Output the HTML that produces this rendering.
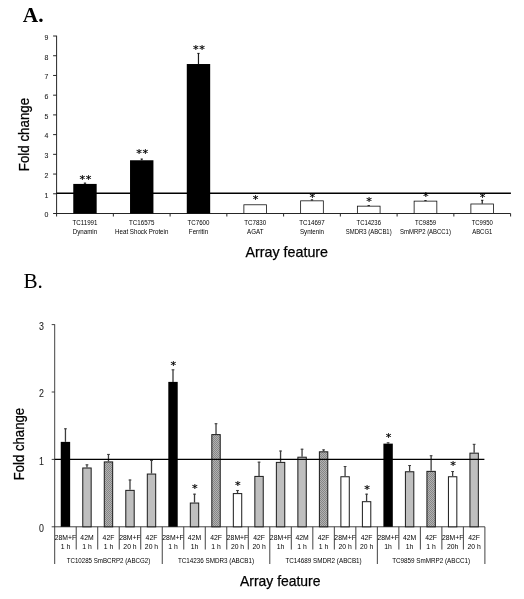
<!DOCTYPE html>
<html lang="en"><head><meta charset="utf-8"><title>Figure</title>
<style>
html,body{margin:0;padding:0;background:#fff;}
body{width:524px;height:599px;overflow:hidden;}
svg{display:block;}
text{font-family:"Liberation Sans", sans-serif;fill:#000;}
.st{font-family:"DejaVu Sans","Liberation Sans",sans-serif;stroke:#000;stroke-width:0.2px;}
.big{stroke:#000;stroke-width:0.25px;}
.tk{fill:#1c1c1c;stroke:#1c1c1c;stroke-width:0.08px;}
.sm{stroke:#000;stroke-width:0.22px;}
.serif{font-family:"Liberation Serif", serif;fill:#000;}
</style></head><body>
<svg width="524" height="599" viewBox="0 0 524 599">
<defs>
<pattern id="hatch" width="2" height="2" patternUnits="userSpaceOnUse">
<rect width="2" height="2" fill="#b2b2b2"/><rect width="1" height="1" fill="#868686"/><rect x="1" y="1" width="1" height="1" fill="#868686"/>
</pattern>
</defs>
<rect width="524" height="599" fill="#fff"/>

<text class="serif" x="22.8" y="22.1" font-size="21.4" font-weight="bold">A.</text>
<g stroke="#262626" stroke-width="1" fill="none">
<line x1="56.6" y1="35.72" x2="56.6" y2="213.9"/>
<line x1="53.1" y1="213.5" x2="510.6" y2="213.5"/>
<line x1="53.1" y1="193.78" x2="56.6" y2="193.78"/>
<line x1="53.1" y1="174.06" x2="56.6" y2="174.06"/>
<line x1="53.1" y1="154.34" x2="56.6" y2="154.34"/>
<line x1="53.1" y1="134.62" x2="56.6" y2="134.62"/>
<line x1="53.1" y1="114.90" x2="56.6" y2="114.90"/>
<line x1="53.1" y1="95.18" x2="56.6" y2="95.18"/>
<line x1="53.1" y1="75.46" x2="56.6" y2="75.46"/>
<line x1="53.1" y1="55.74" x2="56.6" y2="55.74"/>
<line x1="53.1" y1="36.02" x2="56.6" y2="36.02"/>
<line x1="56.60" y1="213.5" x2="56.60" y2="216.5"/>
<line x1="113.35" y1="213.5" x2="113.35" y2="216.5"/>
<line x1="170.10" y1="213.5" x2="170.10" y2="216.5"/>
<line x1="226.85" y1="213.5" x2="226.85" y2="216.5"/>
<line x1="283.60" y1="213.5" x2="283.60" y2="216.5"/>
<line x1="340.35" y1="213.5" x2="340.35" y2="216.5"/>
<line x1="397.10" y1="213.5" x2="397.10" y2="216.5"/>
<line x1="453.85" y1="213.5" x2="453.85" y2="216.5"/>
<line x1="510.60" y1="213.5" x2="510.60" y2="216.5"/>
</g>
<text class="tk" transform="translate(48.4,217.30) scale(0.88,1)" font-size="7.9" text-anchor="end">0</text>
<text class="tk" transform="translate(48.4,197.58) scale(0.88,1)" font-size="7.9" text-anchor="end">1</text>
<text class="tk" transform="translate(48.4,177.86) scale(0.88,1)" font-size="7.9" text-anchor="end">2</text>
<text class="tk" transform="translate(48.4,158.14) scale(0.88,1)" font-size="7.9" text-anchor="end">3</text>
<text class="tk" transform="translate(48.4,138.42) scale(0.88,1)" font-size="7.9" text-anchor="end">4</text>
<text class="tk" transform="translate(48.4,118.70) scale(0.88,1)" font-size="7.9" text-anchor="end">5</text>
<text class="tk" transform="translate(48.4,98.98) scale(0.88,1)" font-size="7.9" text-anchor="end">6</text>
<text class="tk" transform="translate(48.4,79.26) scale(0.88,1)" font-size="7.9" text-anchor="end">7</text>
<text class="tk" transform="translate(48.4,59.54) scale(0.88,1)" font-size="7.9" text-anchor="end">8</text>
<text class="tk" transform="translate(48.4,39.82) scale(0.88,1)" font-size="7.9" text-anchor="end">9</text>
<text class="big" transform="translate(29.4,134.5) rotate(-90)" font-size="14.2" text-anchor="middle" textLength="73.4" lengthAdjust="spacingAndGlyphs">Fold change</text>
<text class="big" x="286.8" y="257" font-size="14.2" text-anchor="middle" textLength="82.5" lengthAdjust="spacingAndGlyphs">Array feature</text>
<rect x="73.27" y="183.92" width="23.4" height="29.58" fill="#000"/>
<line x1="84.97" y1="183.92" x2="84.97" y2="182.74" stroke="#1a1a1a" stroke-width="1.2"/>
<line x1="83.77" y1="183.14" x2="86.17" y2="183.14" stroke="#1a1a1a" stroke-width="0.9"/>
<text class="st" x="79.61" y="182.68" font-size="11.3">*</text>
<text class="st" x="85.81" y="182.68" font-size="11.3">*</text>
<text transform="translate(84.97,225.40) scale(0.86,1)" font-size="7.2" text-anchor="middle">TC11991</text>
<text transform="translate(84.97,233.80) scale(0.86,1)" font-size="7.2" text-anchor="middle">Dynamin</text>
<rect x="130.03" y="160.26" width="23.4" height="53.24" fill="#000"/>
<line x1="141.72" y1="160.26" x2="141.72" y2="158.68" stroke="#1a1a1a" stroke-width="1.2"/>
<line x1="140.53" y1="159.08" x2="142.92" y2="159.08" stroke="#1a1a1a" stroke-width="0.9"/>
<text class="st" x="136.36" y="157.48" font-size="11.3">*</text>
<text class="st" x="142.56" y="157.48" font-size="11.3">*</text>
<text transform="translate(141.72,225.40) scale(0.86,1)" font-size="7.2" text-anchor="middle">TC16575</text>
<text transform="translate(141.72,233.80) scale(0.86,1)" font-size="7.2" text-anchor="middle">Heat Shock Protein</text>
<rect x="186.78" y="64.02" width="23.4" height="149.48" fill="#000"/>
<line x1="198.47" y1="64.02" x2="198.47" y2="52.98" stroke="#1a1a1a" stroke-width="1.2"/>
<line x1="197.28" y1="53.38" x2="199.67" y2="53.38" stroke="#1a1a1a" stroke-width="0.9"/>
<text class="st" x="193.11" y="53.08" font-size="11.3">*</text>
<text class="st" x="199.31" y="53.08" font-size="11.3">*</text>
<text transform="translate(198.47,225.40) scale(0.86,1)" font-size="7.2" text-anchor="middle">TC7600</text>
<text transform="translate(198.47,233.80) scale(0.86,1)" font-size="7.2" text-anchor="middle">Ferritin</text>
<rect x="243.88" y="204.78" width="22.7" height="8.72" fill="#fff" stroke="#111" stroke-width="0.8"/>
<text class="st" x="252.86" y="203.18" font-size="11.3">*</text>
<text transform="translate(255.22,225.40) scale(0.86,1)" font-size="7.2" text-anchor="middle">TC7830</text>
<text transform="translate(255.22,233.80) scale(0.86,1)" font-size="7.2" text-anchor="middle">AGAT</text>
<rect x="300.63" y="200.83" width="22.7" height="12.67" fill="#fff" stroke="#111" stroke-width="0.8"/>
<line x1="311.98" y1="200.48" x2="311.98" y2="199.50" stroke="#1a1a1a" stroke-width="1.2"/>
<line x1="310.78" y1="199.90" x2="313.18" y2="199.90" stroke="#1a1a1a" stroke-width="0.9"/>
<text class="st" x="309.61" y="201.08" font-size="11.3">*</text>
<text transform="translate(311.98,225.40) scale(0.86,1)" font-size="7.2" text-anchor="middle">TC14697</text>
<text transform="translate(311.98,233.80) scale(0.86,1)" font-size="7.2" text-anchor="middle">Syntenin</text>
<rect x="357.38" y="206.16" width="22.7" height="7.34" fill="#fff" stroke="#111" stroke-width="0.8"/>
<line x1="368.73" y1="205.81" x2="368.73" y2="205.22" stroke="#1a1a1a" stroke-width="1.2"/>
<line x1="367.53" y1="205.62" x2="369.93" y2="205.62" stroke="#1a1a1a" stroke-width="0.9"/>
<text class="st" x="366.36" y="204.58" font-size="11.3">*</text>
<text transform="translate(368.73,225.40) scale(0.825,1)" font-size="7.2" text-anchor="middle">TC14236</text>
<text transform="translate(368.73,233.80) scale(0.825,1)" font-size="7.2" text-anchor="middle">SMDR3 (ABCB1)</text>
<rect x="414.13" y="201.13" width="22.7" height="12.37" fill="#fff" stroke="#111" stroke-width="0.8"/>
<line x1="425.48" y1="200.78" x2="425.48" y2="200.19" stroke="#1a1a1a" stroke-width="1.2"/>
<line x1="424.28" y1="200.59" x2="426.68" y2="200.59" stroke="#1a1a1a" stroke-width="0.9"/>
<text class="st" x="423.11" y="200.08" font-size="11.3">*</text>
<text transform="translate(425.48,225.40) scale(0.825,1)" font-size="7.2" text-anchor="middle">TC9859</text>
<text transform="translate(425.48,233.80) scale(0.825,1)" font-size="7.2" text-anchor="middle">SmMRP2 (ABCC1)</text>
<rect x="470.88" y="203.99" width="22.7" height="9.51" fill="#fff" stroke="#111" stroke-width="0.8"/>
<line x1="482.23" y1="203.64" x2="482.23" y2="199.89" stroke="#1a1a1a" stroke-width="1.2"/>
<line x1="481.03" y1="200.29" x2="483.43" y2="200.29" stroke="#1a1a1a" stroke-width="0.9"/>
<text class="st" x="479.86" y="200.78" font-size="11.3">*</text>
<text transform="translate(482.23,225.40) scale(0.825,1)" font-size="7.2" text-anchor="middle">TC9950</text>
<text transform="translate(482.23,233.80) scale(0.825,1)" font-size="7.2" text-anchor="middle">ABCG1</text>
<line x1="56.6" y1="193.25" x2="510.90000000000003" y2="193.25" stroke="#000" stroke-width="1.3"/>
<text class="serif" x="23.4" y="287.5" font-size="21.2">B.</text>
<g stroke="#2e2e2e" stroke-width="0.9" fill="none">
<line x1="54.7" y1="324.30" x2="54.7" y2="564"/>
<line x1="51.7" y1="526.8" x2="484.9" y2="526.8"/>
<line x1="51.7" y1="459.40" x2="54.7" y2="459.40"/>
<line x1="51.7" y1="392.00" x2="54.7" y2="392.00"/>
<line x1="51.7" y1="324.60" x2="54.7" y2="324.60"/>
<line x1="76.21" y1="526.8" x2="76.21" y2="549.5"/>
<line x1="97.72" y1="526.8" x2="97.72" y2="549.5"/>
<line x1="119.23" y1="526.8" x2="119.23" y2="549.5"/>
<line x1="140.74" y1="526.8" x2="140.74" y2="549.5"/>
<line x1="162.25" y1="526.8" x2="162.25" y2="564"/>
<line x1="183.76" y1="526.8" x2="183.76" y2="549.5"/>
<line x1="205.27" y1="526.8" x2="205.27" y2="549.5"/>
<line x1="226.78" y1="526.8" x2="226.78" y2="549.5"/>
<line x1="248.29" y1="526.8" x2="248.29" y2="549.5"/>
<line x1="269.80" y1="526.8" x2="269.80" y2="564"/>
<line x1="291.31" y1="526.8" x2="291.31" y2="549.5"/>
<line x1="312.82" y1="526.8" x2="312.82" y2="549.5"/>
<line x1="334.33" y1="526.8" x2="334.33" y2="549.5"/>
<line x1="355.84" y1="526.8" x2="355.84" y2="549.5"/>
<line x1="377.35" y1="526.8" x2="377.35" y2="564"/>
<line x1="398.86" y1="526.8" x2="398.86" y2="549.5"/>
<line x1="420.37" y1="526.8" x2="420.37" y2="549.5"/>
<line x1="441.88" y1="526.8" x2="441.88" y2="549.5"/>
<line x1="463.39" y1="526.8" x2="463.39" y2="549.5"/>
<line x1="484.90" y1="526.8" x2="484.90" y2="564"/>
</g>
<text class="tk" transform="translate(43.9,532.10) scale(0.82,1)" font-size="10.8" text-anchor="end">0</text>
<text class="tk" transform="translate(43.9,464.70) scale(0.82,1)" font-size="10.8" text-anchor="end">1</text>
<text class="tk" transform="translate(43.9,397.30) scale(0.82,1)" font-size="10.8" text-anchor="end">2</text>
<text class="tk" transform="translate(43.9,329.90) scale(0.82,1)" font-size="10.8" text-anchor="end">3</text>
<text class="big" transform="translate(23.8,444.1) rotate(-90)" font-size="14.3" text-anchor="middle" textLength="72.4" lengthAdjust="spacingAndGlyphs">Fold change</text>
<text class="big" x="280.25" y="585.5" font-size="14.2" text-anchor="middle" textLength="80.5" lengthAdjust="spacingAndGlyphs">Array feature</text>
<rect x="60.75" y="441.88" width="9.4" height="84.92" fill="#000"/>
<line x1="65.45" y1="441.88" x2="65.45" y2="428.40" stroke="#3c3c3c" stroke-width="1.3"/>
<line x1="64.05" y1="428.80" x2="66.86" y2="428.80" stroke="#3c3c3c" stroke-width="1"/>
<text transform="translate(65.45,540.00) scale(0.9,1)" font-size="7.6" text-anchor="middle">28M+F</text>
<text transform="translate(65.45,548.90) scale(0.9,1)" font-size="7.6" text-anchor="middle">1 h</text>
<rect x="82.77" y="467.99" width="8.4" height="58.81" fill="#bfbfbf" stroke="#1a1a1a" stroke-width="1"/>
<line x1="86.97" y1="467.49" x2="86.97" y2="464.45" stroke="#3c3c3c" stroke-width="1.3"/>
<line x1="85.56" y1="464.85" x2="88.37" y2="464.85" stroke="#3c3c3c" stroke-width="1"/>
<text transform="translate(86.97,540.00) scale(0.9,1)" font-size="7.6" text-anchor="middle">42M</text>
<text transform="translate(86.97,548.90) scale(0.9,1)" font-size="7.6" text-anchor="middle">1 h</text>
<rect x="104.27" y="461.92" width="8.4" height="64.88" fill="url(#hatch)" stroke="#1a1a1a" stroke-width="1"/>
<line x1="108.47" y1="461.42" x2="108.47" y2="454.01" stroke="#3c3c3c" stroke-width="1.3"/>
<line x1="107.07" y1="454.41" x2="109.88" y2="454.41" stroke="#3c3c3c" stroke-width="1"/>
<text transform="translate(108.47,540.00) scale(0.9,1)" font-size="7.6" text-anchor="middle">42F</text>
<text transform="translate(108.47,548.90) scale(0.9,1)" font-size="7.6" text-anchor="middle">1 h</text>
<rect x="125.79" y="490.36" width="8.4" height="36.44" fill="#bfbfbf" stroke="#1a1a1a" stroke-width="1"/>
<line x1="129.99" y1="489.86" x2="129.99" y2="479.62" stroke="#3c3c3c" stroke-width="1.3"/>
<line x1="128.59" y1="480.02" x2="131.39" y2="480.02" stroke="#3c3c3c" stroke-width="1"/>
<text transform="translate(129.99,540.00) scale(0.9,1)" font-size="7.6" text-anchor="middle">28M+F</text>
<text transform="translate(129.99,548.90) scale(0.9,1)" font-size="7.6" text-anchor="middle">20 h</text>
<rect x="147.30" y="474.05" width="8.4" height="52.75" fill="#bfbfbf" stroke="#1a1a1a" stroke-width="1"/>
<line x1="151.50" y1="473.55" x2="151.50" y2="460.07" stroke="#3c3c3c" stroke-width="1.3"/>
<line x1="150.09" y1="460.47" x2="152.90" y2="460.47" stroke="#3c3c3c" stroke-width="1"/>
<text transform="translate(151.50,540.00) scale(0.9,1)" font-size="7.6" text-anchor="middle">42F</text>
<text transform="translate(151.50,548.90) scale(0.9,1)" font-size="7.6" text-anchor="middle">20 h</text>
<rect x="168.31" y="381.89" width="9.4" height="144.91" fill="#000"/>
<line x1="173.00" y1="381.89" x2="173.00" y2="369.42" stroke="#3c3c3c" stroke-width="1.3"/>
<line x1="171.60" y1="369.82" x2="174.41" y2="369.82" stroke="#3c3c3c" stroke-width="1"/>
<text class="st" x="170.54" y="368.88" font-size="11.3">*</text>
<text transform="translate(173.00,540.00) scale(0.9,1)" font-size="7.6" text-anchor="middle">28M+F</text>
<text transform="translate(173.00,548.90) scale(0.9,1)" font-size="7.6" text-anchor="middle">1 h</text>
<rect x="190.31" y="503.04" width="8.4" height="23.76" fill="#bfbfbf" stroke="#1a1a1a" stroke-width="1"/>
<line x1="194.51" y1="502.54" x2="194.51" y2="493.77" stroke="#3c3c3c" stroke-width="1.3"/>
<line x1="193.11" y1="494.17" x2="195.91" y2="494.17" stroke="#3c3c3c" stroke-width="1"/>
<text class="st" x="192.05" y="492.18" font-size="11.3">*</text>
<text transform="translate(194.51,540.00) scale(0.9,1)" font-size="7.6" text-anchor="middle">42M</text>
<text transform="translate(194.51,548.90) scale(0.9,1)" font-size="7.6" text-anchor="middle">1h</text>
<rect x="211.82" y="434.62" width="8.4" height="92.18" fill="url(#hatch)" stroke="#1a1a1a" stroke-width="1"/>
<line x1="216.02" y1="434.12" x2="216.02" y2="423.34" stroke="#3c3c3c" stroke-width="1.3"/>
<line x1="214.62" y1="423.74" x2="217.42" y2="423.74" stroke="#3c3c3c" stroke-width="1"/>
<text transform="translate(216.02,540.00) scale(0.9,1)" font-size="7.6" text-anchor="middle">42F</text>
<text transform="translate(216.02,548.90) scale(0.9,1)" font-size="7.6" text-anchor="middle">1 h</text>
<rect x="233.33" y="493.60" width="8.4" height="33.20" fill="#fff" stroke="#1a1a1a" stroke-width="1"/>
<line x1="237.53" y1="493.10" x2="237.53" y2="490.07" stroke="#3c3c3c" stroke-width="1.3"/>
<line x1="236.13" y1="490.47" x2="238.93" y2="490.47" stroke="#3c3c3c" stroke-width="1"/>
<text class="st" x="235.07" y="489.18" font-size="11.3">*</text>
<text transform="translate(237.53,540.00) scale(0.9,1)" font-size="7.6" text-anchor="middle">28M+F</text>
<text transform="translate(237.53,548.90) scale(0.9,1)" font-size="7.6" text-anchor="middle">20 h</text>
<rect x="254.84" y="476.41" width="8.4" height="50.39" fill="#bfbfbf" stroke="#1a1a1a" stroke-width="1"/>
<line x1="259.04" y1="475.91" x2="259.04" y2="461.76" stroke="#3c3c3c" stroke-width="1.3"/>
<line x1="257.64" y1="462.16" x2="260.44" y2="462.16" stroke="#3c3c3c" stroke-width="1"/>
<text transform="translate(259.04,540.00) scale(0.9,1)" font-size="7.6" text-anchor="middle">42F</text>
<text transform="translate(259.04,548.90) scale(0.9,1)" font-size="7.6" text-anchor="middle">20 h</text>
<rect x="276.36" y="462.39" width="8.4" height="64.41" fill="#bfbfbf" stroke="#1a1a1a" stroke-width="1"/>
<line x1="280.56" y1="461.89" x2="280.56" y2="450.64" stroke="#3c3c3c" stroke-width="1.3"/>
<line x1="279.16" y1="451.04" x2="281.95" y2="451.04" stroke="#3c3c3c" stroke-width="1"/>
<text transform="translate(280.56,540.00) scale(0.9,1)" font-size="7.6" text-anchor="middle">28M+F</text>
<text transform="translate(280.56,548.90) scale(0.9,1)" font-size="7.6" text-anchor="middle">1h</text>
<rect x="297.87" y="457.20" width="8.4" height="69.60" fill="#bfbfbf" stroke="#1a1a1a" stroke-width="1"/>
<line x1="302.06" y1="456.70" x2="302.06" y2="448.82" stroke="#3c3c3c" stroke-width="1.3"/>
<line x1="300.67" y1="449.22" x2="303.46" y2="449.22" stroke="#3c3c3c" stroke-width="1"/>
<text transform="translate(302.06,540.00) scale(0.9,1)" font-size="7.6" text-anchor="middle">42M</text>
<text transform="translate(302.06,548.90) scale(0.9,1)" font-size="7.6" text-anchor="middle">1 h</text>
<rect x="319.38" y="451.81" width="8.4" height="74.99" fill="url(#hatch)" stroke="#1a1a1a" stroke-width="1"/>
<line x1="323.57" y1="451.31" x2="323.57" y2="449.49" stroke="#3c3c3c" stroke-width="1.3"/>
<line x1="322.18" y1="449.89" x2="324.97" y2="449.89" stroke="#3c3c3c" stroke-width="1"/>
<text transform="translate(323.57,540.00) scale(0.9,1)" font-size="7.6" text-anchor="middle">42F</text>
<text transform="translate(323.57,548.90) scale(0.9,1)" font-size="7.6" text-anchor="middle">1 h</text>
<rect x="340.88" y="476.75" width="8.4" height="50.05" fill="#fff" stroke="#1a1a1a" stroke-width="1"/>
<line x1="345.08" y1="476.25" x2="345.08" y2="466.14" stroke="#3c3c3c" stroke-width="1.3"/>
<line x1="343.69" y1="466.54" x2="346.48" y2="466.54" stroke="#3c3c3c" stroke-width="1"/>
<text transform="translate(345.08,540.00) scale(0.9,1)" font-size="7.6" text-anchor="middle">28M+F</text>
<text transform="translate(345.08,548.90) scale(0.9,1)" font-size="7.6" text-anchor="middle">20 h</text>
<rect x="362.39" y="501.69" width="8.4" height="25.11" fill="#fff" stroke="#1a1a1a" stroke-width="1"/>
<line x1="366.59" y1="501.19" x2="366.59" y2="493.77" stroke="#3c3c3c" stroke-width="1.3"/>
<line x1="365.19" y1="494.17" x2="367.99" y2="494.17" stroke="#3c3c3c" stroke-width="1"/>
<text class="st" x="364.13" y="492.58" font-size="11.3">*</text>
<text transform="translate(366.59,540.00) scale(0.9,1)" font-size="7.6" text-anchor="middle">42F</text>
<text transform="translate(366.59,548.90) scale(0.9,1)" font-size="7.6" text-anchor="middle">20 h</text>
<rect x="383.40" y="443.63" width="9.4" height="83.17" fill="#000"/>
<line x1="388.10" y1="443.63" x2="388.10" y2="442.42" stroke="#3c3c3c" stroke-width="1.3"/>
<line x1="386.70" y1="442.82" x2="389.50" y2="442.82" stroke="#3c3c3c" stroke-width="1"/>
<text class="st" x="385.64" y="440.68" font-size="11.3">*</text>
<text transform="translate(388.10,540.00) scale(0.9,1)" font-size="7.6" text-anchor="middle">28M+F</text>
<text transform="translate(388.10,548.90) scale(0.9,1)" font-size="7.6" text-anchor="middle">1h</text>
<rect x="405.41" y="471.76" width="8.4" height="55.04" fill="#bfbfbf" stroke="#1a1a1a" stroke-width="1"/>
<line x1="409.61" y1="471.26" x2="409.61" y2="465.13" stroke="#3c3c3c" stroke-width="1.3"/>
<line x1="408.21" y1="465.53" x2="411.01" y2="465.53" stroke="#3c3c3c" stroke-width="1"/>
<text transform="translate(409.61,540.00) scale(0.9,1)" font-size="7.6" text-anchor="middle">42M</text>
<text transform="translate(409.61,548.90) scale(0.9,1)" font-size="7.6" text-anchor="middle">1h</text>
<rect x="426.92" y="471.36" width="8.4" height="55.44" fill="url(#hatch)" stroke="#1a1a1a" stroke-width="1"/>
<line x1="431.12" y1="470.86" x2="431.12" y2="455.36" stroke="#3c3c3c" stroke-width="1.3"/>
<line x1="429.72" y1="455.76" x2="432.52" y2="455.76" stroke="#3c3c3c" stroke-width="1"/>
<text transform="translate(431.12,540.00) scale(0.9,1)" font-size="7.6" text-anchor="middle">42F</text>
<text transform="translate(431.12,548.90) scale(0.9,1)" font-size="7.6" text-anchor="middle">1 h</text>
<rect x="448.43" y="476.75" width="8.4" height="50.05" fill="#fff" stroke="#1a1a1a" stroke-width="1"/>
<line x1="452.63" y1="476.25" x2="452.63" y2="471.13" stroke="#3c3c3c" stroke-width="1.3"/>
<line x1="451.23" y1="471.53" x2="454.03" y2="471.53" stroke="#3c3c3c" stroke-width="1"/>
<text class="st" x="450.17" y="469.38" font-size="11.3">*</text>
<text transform="translate(452.63,540.00) scale(0.9,1)" font-size="7.6" text-anchor="middle">28M+F</text>
<text transform="translate(452.63,548.90) scale(0.9,1)" font-size="7.6" text-anchor="middle">20h</text>
<rect x="469.94" y="453.16" width="8.4" height="73.64" fill="#bfbfbf" stroke="#1a1a1a" stroke-width="1"/>
<line x1="474.14" y1="452.66" x2="474.14" y2="443.90" stroke="#3c3c3c" stroke-width="1.3"/>
<line x1="472.74" y1="444.30" x2="475.54" y2="444.30" stroke="#3c3c3c" stroke-width="1"/>
<text transform="translate(474.14,540.00) scale(0.9,1)" font-size="7.6" text-anchor="middle">42F</text>
<text transform="translate(474.14,548.90) scale(0.9,1)" font-size="7.6" text-anchor="middle">20 h</text>
<text transform="translate(108.47,562.80) scale(0.835,1)" font-size="7.4" text-anchor="middle">TC10285 SmBCRP2 (ABCG2)</text>
<text transform="translate(216.02,562.80) scale(0.852,1)" font-size="7.4" text-anchor="middle">TC14236 SMDR3 (ABCB1)</text>
<text transform="translate(323.57,562.80) scale(0.852,1)" font-size="7.4" text-anchor="middle">TC14689 SMDR2 (ABCB1)</text>
<text transform="translate(431.12,562.80) scale(0.852,1)" font-size="7.4" text-anchor="middle">TC9859 SmMRP2 (ABCC1)</text>
<line x1="54.7" y1="459.3" x2="484.4" y2="459.3" stroke="#000" stroke-width="1.3"/>
</svg></body></html>
